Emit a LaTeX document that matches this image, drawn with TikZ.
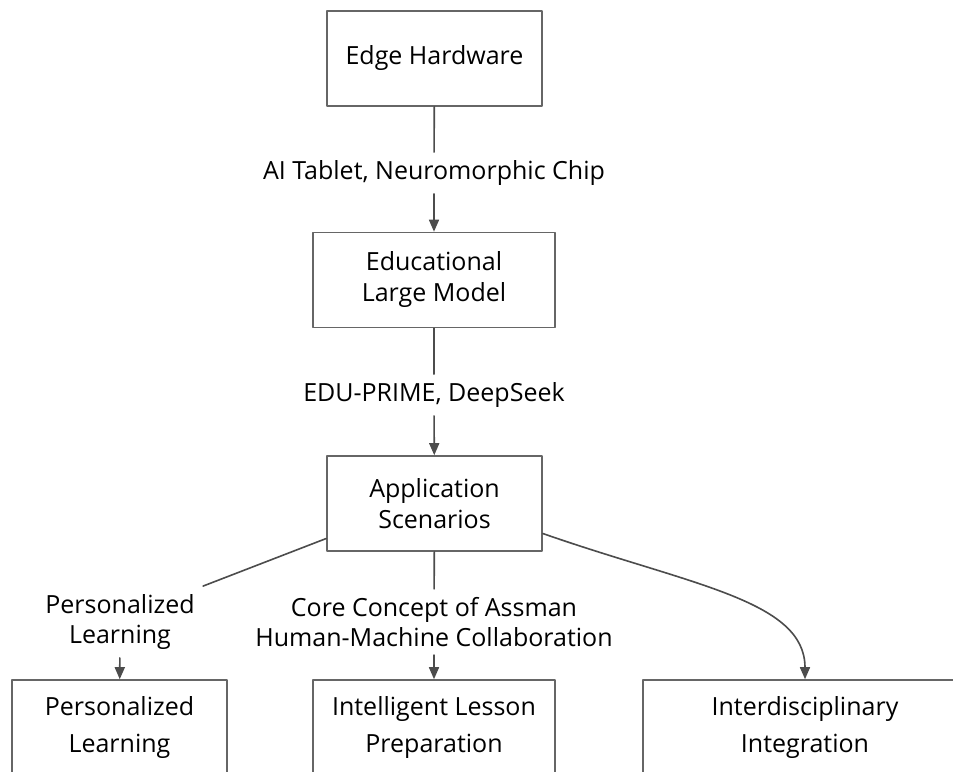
\documentclass[tikz,border=0pt]{standalone}
\usepackage{fontspec}
\setmainfont{Open Sans}
\usetikzlibrary{arrows.meta,calc}

\begin{document}
\begin{tikzpicture}[x=0.5pt, y=-0.5pt, >={Triangle[length=6pt,width=5pt]},
  line cap=round, line join=round,
  box/.style={draw=black!60, line width=0.8pt, rectangle, minimum height=47.5pt,
    align=center, font=\fontsize{12.5}{15.5}\selectfont},
  lowbox/.style={box, font=\fontsize{12.5}{18.5}\selectfont},
  lbl/.style={align=center, inner sep=4pt, font=\fontsize{12.5}{15}\selectfont},
  link/.style={draw=black!70, line width=0.8pt}]

% ----------------------------
% FRAME
% ----------------------------
\useasboundingbox (0,0) rectangle (953,771);
\clip (0,0) rectangle (953,771);
\fill[white] (0,0) rectangle (953,771);

% ----------------------------
% MAIN CHAIN
% ----------------------------
\node[box, minimum width=107.5pt] (edge) at (434.5,58.5) {Edge Hardware};
\node[lbl] (tab) at (434,173) {AI Tablet, Neuromorphic Chip};
\node[box, minimum width=121pt] (edu) at (434,280) {Educational\\Large Model};
\node[lbl] (prime) at (434,395) {EDU-PRIME, DeepSeek};
\node[box, minimum width=107.5pt] (app) at (434.5,503.5) {Application\\Scenarios};

\draw[link] (edge) -- (tab);
\draw[link,->] (tab) -- (edu);
\draw[link] (edu) -- (prime);
\draw[link,->] (prime) -- (app);

% ----------------------------
% BRANCH LABELS
% ----------------------------
\node[lbl] (perlbl) at (120,622) {Personalized\\Learning};
\node[lbl] (core) at (434,622) {Core Concept of Assman\\Human-Machine Collaboration};

% ----------------------------
% SCENARIO BOXES
% ----------------------------
\node[lowbox, minimum width=107.5pt] (per) at (119.5,727.5) {Personalized\\Learning};
\node[lowbox, minimum width=121pt] (ilp) at (434,727.5) {Intelligent Lesson\\Preparation};
\node[lowbox, minimum width=162pt] (idi) at (805,727.5) {Interdisciplinary\\Integration};

% left branch
\draw[link] ($(app.west)+(0,35)$) -- (perlbl.north east);
\draw[link,->] (perlbl) -- (per);

% middle branch
\draw[link] (app) -- (core);
\draw[link,->] (core) -- (ilp);

% right branch
\draw[link,->] ($(app.east)+(0,30)$) .. controls (690,585) and (805,600) .. (idi.north);

\end{tikzpicture}
\end{document}
